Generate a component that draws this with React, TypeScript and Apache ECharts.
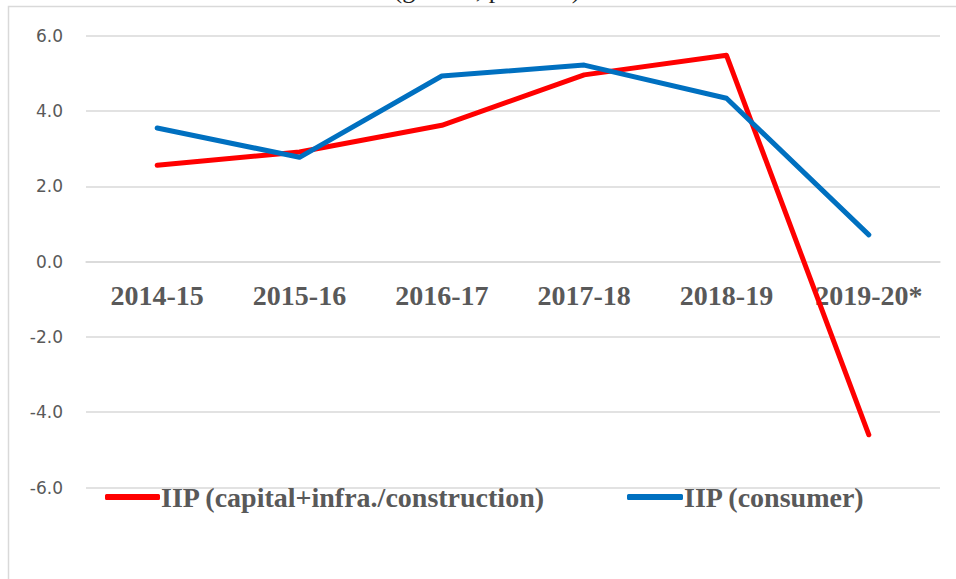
import React, { useEffect, useRef } from "react";
import * as echarts from "echarts";

const categories = ["2014-15", "2015-16", "2016-17", "2017-18", "2018-19", "2019-20*"];
const capitalInfra = [2.56, 2.91, 3.62, 4.96, 5.48, -4.6];
const consumer = [3.55, 2.77, 4.93, 5.22, 4.34, 0.71];
const seriesNames = ["IIP (capital+infra./construction)", "IIP (consumer)"];
const titleText = "(growth, per cent)";

export default function App() {
  const ref = useRef<HTMLDivElement>(null);
  useEffect(() => {
    if (!ref.current) return;
    const chart = echarts.init(ref.current, null, { renderer: "svg" });
    const serif = "'Liberation Serif', 'Times New Roman', serif";
    const grey = "#595959";
    const gridTop = 35.7;
    const gridBottom = 91.5;
    const plotH = 579 - gridTop - gridBottom;
    const yMin = -6;
    const yMax = 6;
    const zeroOffset = -(plotH * (0 - yMin)) / (yMax - yMin);
    chart.setOption({
      animation: false,
      backgroundColor: "#ffffff",
      grid: { left: 86, right: 16, top: gridTop, bottom: gridBottom, containLabel: false },
      xAxis: {
        type: "category",
        data: categories,
        boundaryGap: true,
        offset: zeroOffset,
        axisLine: { show: true, onZero: false, lineStyle: { color: "#d9d9d9", width: 1.5 } },
        axisTick: { show: false },
        axisLabel: {
          color: grey,
          fontFamily: serif,
          fontWeight: "bold",
          fontSize: 28,
          margin: 20,
        },
        splitLine: { show: false },
      },
      yAxis: {
        type: "value",
        min: yMin,
        max: yMax,
        interval: 2,
        axisLine: { show: false },
        axisTick: { show: false },
        axisLabel: {
          color: grey,
          fontFamily: "'DejaVu Sans', sans-serif",
          fontSize: 17,
          margin: 23,
          formatter: (v: number) => v.toFixed(1),
        },
        splitLine: { show: true, lineStyle: { color: "#d9d9d9", width: 1.5 } },
      },
      legend: [
        {
          data: [seriesNames[0]],
          left: 100,
          top: 478,
          icon: "roundRect",
          itemWidth: 55,
          itemHeight: 6,
          itemGap: 0,
          textStyle: { color: grey, fontFamily: serif, fontWeight: "bold", fontSize: 28, padding: [0, 0, 0, -4] },
        },
        {
          data: [seriesNames[1]],
          left: 622,
          top: 478,
          icon: "roundRect",
          itemWidth: 56,
          itemHeight: 6,
          itemGap: 0,
          textStyle: { color: grey, fontFamily: serif, fontWeight: "bold", fontSize: 28, padding: [0, 0, 0, -4] },
        },
      ],
      series: [
        {
          name: seriesNames[0],
          type: "line",
          data: capitalInfra,
          symbol: "none",
          color: "#ff0000",
          lineStyle: { color: "#ff0000", width: 5, cap: "round", join: "round" },
        },
        {
          name: seriesNames[1],
          type: "line",
          data: consumer,
          symbol: "none",
          color: "#0070c0",
          lineStyle: { color: "#0070c0", width: 5, cap: "round", join: "round" },
        },
      ],
      graphic: [
        {
          type: "polyline",
          shape: { points: [[8.5, 579], [8.5, 6.5], [956, 6.5]] },
          style: { stroke: "#d9d9d9", lineWidth: 1.5, fill: null },
          silent: true,
        },
        {
          type: "text",
          x: 487,
          y: -11,
          style: {
            text: titleText,
            fontFamily: serif,
            fontSize: 26,
            fill: "#222222",
            textAlign: "center",
            textVerticalAlign: "middle",
          },
          silent: true,
        },
      ],
    });
    return () => chart.dispose();
  }, []);
  return (
    <div
      ref={ref}
      style={{ position: "absolute", left: 0, top: 0, width: 956, height: 579 }}
    />
  );
}
